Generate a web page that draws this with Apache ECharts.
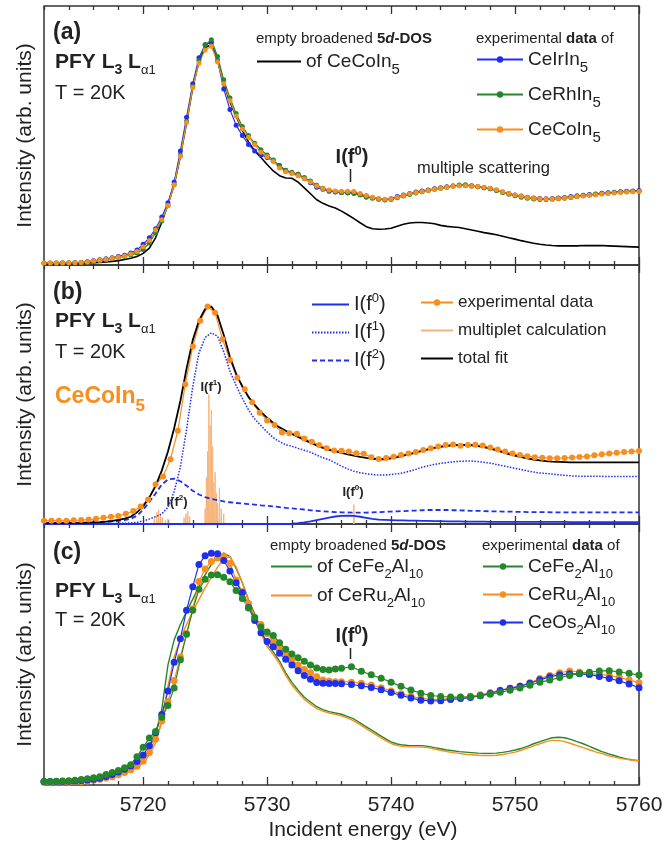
<!DOCTYPE html>
<html>
<head>
<meta charset="utf-8">
<title>PFY L3 spectra</title>
<script src="https://cdn.jsdelivr.net/npm/echarts@6.0.0/dist/echarts.min.js"></script>
<style>
  html, body { margin: 0; padding: 0; background: #fff; }
  #main { width: 672px; height: 844px; }
</style>
</head>
<body>
<div id="main"></div>
<script>
// energy sampling grids (eV)
function steps(from, to, step) {
  const out = [];
  for (let e = from; e <= to + 1e-9; e += step) out.push(+e.toFixed(2));
  return out;
}
const energyFine = steps(5712, 5760, 0.5);                                   // 97 pts
const energyB = steps(5712, 5760, 0.6);                                      // 81 pts
const energyC = steps(5712, 5736, 0.5).concat(steps(5736.8, 5760, 0.8));     // 79 pts

const majorTicks = [5720, 5730, 5740, 5750, 5760];
const minorTicks = [5712, 5714, 5716, 5718, 5722, 5724, 5726, 5728, 5732, 5734, 5736, 5738,
  5742, 5744, 5746, 5748, 5752, 5754, 5756, 5758];

// ---- panel (a) : CeM In5, values in % of panel height ----
const dosCeCoIn5 = [
  0.5,0.5,0.5,0.5,0.6,0.6,0.7,0.8,0.9,1.0,
  1.2,1.4,1.7,2.1,2.6,3.3,4.5,6.5,10.5,16.5,
  23.5,31,42,55,68.5,78.5,84,85,79,70,
  63,57.5,52,47.5,44,41.5,38.8,36.3,34.5,33.6,
  33.5,32,29.8,27.5,25.2,23.8,22.8,22,20.8,19.4,
  17.9,16.3,14.8,14,13.8,13.9,14.2,15,15.7,16.2,
  16.4,16.4,16.2,15.9,15.3,14.9,14.7,14.5,14,13.5,
  13,12.5,12.1,11.7,11.1,10.5,10,9.4,8.9,8.4,
  8,7.7,7.5,7.4,7.4,7.4,7.4,7.5,7.5,7.5,
  7.5,7.4,7.3,7.2,7.1,7.0,6.9
];
const expCeIrIn5 = [
  0.7,0.7,0.7,0.8,0.8,0.9,1.0,1.3,1.6,2.0,
  2.4,2.8,3.3,3.8,4.6,5.8,8,10.5,14,18.5,
  24,32,44,57,70,80,85,86,79,68,
  60,54,50,46.5,44,42.5,41.5,40.2,38.4,36.5,
  35.5,35,33.5,31.8,30,29.2,28.5,28.2,28,28,
  27.8,27.2,26.5,26,25.5,25.2,25.6,26.4,27,27.6,
  28.2,28.6,29,29.4,29.8,30.2,30.5,30.8,30.7,30.5,
  30.2,29.8,29.4,28.9,28.2,27.6,27,26.6,26.2,25.9,
  25.7,25.6,25.7,25.9,26.1,26.4,26.7,26.9,27.2,27.4,
  27.7,27.9,28.1,28.3,28.5,28.6,28.8
];
const expCeRhIn5 = [
  0.8,0.8,0.8,0.8,0.9,0.9,1.0,1.1,1.4,1.7,
  2.1,2.5,2.9,3.3,3.9,4.6,6,8.5,12.5,17,
  23,31,42.5,55.5,69,79,85,87,80.5,71.5,
  64.5,58.5,53.5,50,47,44.5,42.5,40.5,38.2,36.6,
  35.8,35,33.8,32.4,30.8,29.6,28.8,28.3,28,27.8,
  27.6,27,26.2,25.8,25.4,25.1,25.3,26,26.6,27.2,
  27.8,28.3,28.8,29.2,29.6,30,30.5,30.9,31,30.6,
  30.2,29.8,29.4,28.8,28,27.3,26.7,26.2,25.8,25.5,
  25.3,25.3,25.4,25.6,25.8,26.1,26.4,26.7,27,27.3,
  27.5,27.8,28,28.2,28.3,28.4,28.5
];
const expCeCoIn5 = [
  0.8,0.8,0.8,0.8,0.9,0.9,1.0,1.2,1.5,1.8,
  2.2,2.6,3.0,3.5,4.2,5.2,7.0,9.5,13.5,17.5,
  23,31,42,55,68.5,78,83,84.5,78.5,70,
  63.5,57.5,52.5,49.3,46.5,43.5,41.8,40,37.5,36,
  35.3,34.5,33.3,32,30.5,29.5,29,28.6,28.5,28.5,
  28.4,27.6,26.8,26.2,25.7,25.4,25.5,26.2,26.8,27.5,
  28,28.4,28.8,29.2,29.6,30,30.4,30.6,30.6,30.4,
  30.3,30,29.6,29.1,28.3,27.6,27,26.5,26.1,25.8,
  25.6,25.5,25.6,25.7,25.9,26.2,26.4,26.6,26.9,27.1,
  27.4,27.6,27.8,28,28.2,28.3,28.4
];

// ---- panel (b) : CeCoIn5 fit ----
const expFitB = [
  1.3,1.3,1.3,1.3,1.4,1.5,1.7,2.0,2.4,2.8,
  3.1,4.0,5.0,6.8,9.5,15.3,18.3,25,36,54,
  68.5,78.5,84,81.6,71.3,63.3,56.5,52,47,43,
  40,38.2,35.3,35,34.8,33,31.8,30.5,29.2,28.4,
  28.3,28,27.3,27.1,25.8,25.1,25.5,26,26.6,27.2,
  27.8,28.6,29.2,29.9,30.5,30.7,30.2,30.5,30.6,30.3,
  29.5,28.8,28,27.2,26.6,26.2,25.8,25.6,25.4,25.4,
  25.5,25.7,25.9,26.1,26.5,26.9,27.2,27.5,27.8,28.0,
  28.2
];
const totalFit = [
  0.3,0.3,0.3,0.3,0.3,0.4,0.4,0.5,0.6,0.7,
  0.9,1.2,1.6,2.1,2.8,4.5,6.8,10.3,14.6,20.6,
  28,37,47.5,60,71,78.5,83,84,80.5,73,
  64.5,58,53,49,46,43.3,41,39,37.3,36,
  34.8,33.6,32.5,31.4,30.3,29.4,28.6,28,27.5,26.9,
  26.4,25.9,25.5,25.2,25.0,25.0,25.3,25.8,26.4,27.0,
  27.6,28.2,28.8,29.4,29.8,30.2,30.4,30.5,30.5,30.4,
  30.1,29.7,29.1,28.4,27.7,27,26.4,25.8,25.3,24.9,
  24.6,24.3,24.1,24,23.9,23.8,23.8,23.8,23.8,23.8,
  23.8,23.8,23.8,23.8,23.8,23.8,23.8
];
const fitF0 = [
  0,0,0,0,0,0,0,0,0,0,
  0,0,0,0,0,0,0,0,0,0,
  0,0,0,0,0,0,0,0,0,0,
  0,0,0,0,0,0,0,0,0,0,
  0.1,0.3,0.6,1.0,1.5,2.0,2.5,2.9,3.1,3.2,
  3.1,2.8,2.4,2.0,1.7,1.6,1.5,1.4,1.4,1.3,
  1.3,1.2,1.2,1.1,1.1,1.0,1.0,1.0,0.9,0.9,
  0.9,0.9,0.8,0.8,0.8,0.8,0.8,0.8,0.8,0.8,
  0.8,0.8,0.8,0.8,0.8,0.7,0.7,0.7,0.7,0.7,
  0.7,0.7,0.7,0.7,0.7,0.7,0.7
];
const fitF1 = [
  0.2,0.2,0.2,0.2,0.2,0.2,0.2,0.2,0.2,0.2,
  0.2,0.2,0.3,0.3,0.4,0.6,1.2,1.9,2.8,3.9,
  6.5,12.5,22,36.5,53,66,72,73.8,72.5,66.5,
  59,53.5,48.5,44,40.5,38,35.5,33.3,31.8,30.6,
  30,29.2,28.5,27.7,26.6,25.6,24.8,23.6,22.3,21.3,
  20.4,19.8,19.4,19.1,18.9,18.9,19.1,19.4,19.8,20.4,
  21.1,21.9,22.5,23,23.4,23.7,24,24.2,24.3,24.3,
  24.1,23.8,23.5,23,22.5,22,21.5,21,20.5,20.1,
  19.7,19.5,19.3,19,18.8,18.6,18.5,18.4,18.4,18.4,
  18.4,18.3,18.3,18.3,18.3,18.3,18.3
];
const fitF2 = [
  0.3,0.3,0.3,0.3,0.4,0.4,0.5,0.5,0.6,0.7,
  0.8,1.0,1.2,1.5,2.0,3.2,5.5,8.5,11.8,15.2,
  17.2,17.5,16.5,14.8,12.8,11.4,10.4,9.7,9.2,8.7,
  8.4,8.1,7.9,7.7,7.5,7.2,7.0,6.8,6.5,6.2,
  6.0,5.8,5.6,5.3,5.1,4.9,4.8,4.6,4.5,4.5,
  4.4,4.4,4.4,4.5,4.6,4.7,4.8,4.9,5.0,5.1,
  5.2,5.3,5.4,5.4,5.4,5.4,5.3,5.3,5.2,5.1,
  5.1,5.0,4.9,4.9,4.8,4.8,4.7,4.7,4.6,4.6,
  4.6,4.6,4.5,4.5,4.5,4.5,4.5,4.5,4.5,4.5,
  4.5,4.5,4.5,4.5,4.5,4.5,4.5
];
// multiplet calculation (stick spectrum)
const stickEnergy = [5720.9, 5721.1, 5721.25, 5721.4, 5721.55, 5721.8, 5722.0,
  5723.3, 5723.45, 5723.6, 5723.75,
  5725.0, 5725.1, 5725.2, 5725.3, 5725.4, 5725.5, 5725.6, 5725.7, 5725.8, 5725.9, 5726.0, 5726.15, 5726.3, 5726.5,
  5737.0];
const stickHeight = [2.0, 4.5, 5.5, 3.5, 2.5, 1.5, 2.0,
  2.5, 4.0, 5.0, 3.0,
  6, 18, 28, 50, 38, 44, 30, 16, 20, 12, 8, 14, 6, 4,
  7.5];

// ---- panel (c) : CeT2Al10 ----
const dosCeFe2Al10 = [
  1.5,1.5,1.6,1.7,1.8,1.9,2.1,2.3,2.6,3.0,
  3.4,3.9,4.6,5.4,6.4,8.2,10.8,14.2,19.5,29,
  46,55.6,61.5,66.5,71.2,76,80.5,84.5,87.5,88.8,
  87.5,83,77.5,71,65.5,59,54,51,47.5,43,
  39.3,36.3,33.6,31.8,30,28.9,28.1,27.6,27.1,26.2,
  25.3,23.8,22.3,20.8,19.3,17.9,16.5,15.7,15.3,15.1,
  15.1,15.1,14.8,14.3,13.9,13.4,13.1,12.8,12.6,12.4,
  12.2,12.1,12.1,12.2,12.5,12.9,13.4,14,14.8,15.8,
  16.6,17.4,18.1,18.3,18.1,17.5,16.6,15.8,14.8,13.8,
  12.8,12.0,11.3,10.6,10.0,9.6,9.3
];
const dosCeRu2Al10 = [
  1.2,1.2,1.3,1.3,1.4,1.5,1.6,1.8,2.0,2.3,
  2.7,3.2,3.8,4.5,5.4,6.6,8.5,11.5,16,24,
  38,49,56,61.5,66.5,71,75.5,79.5,83.5,86.5,
  87.5,83.5,77.5,70.5,64.5,58,53,50,46.5,42,
  38.3,35.4,32.8,31,29.3,28.3,27.6,27.1,26.5,25.6,
  24.6,23.1,21.6,20.1,18.6,17.2,15.9,15.1,14.7,14.6,
  14.6,14.5,14.3,13.8,13.3,12.8,12.4,12.1,11.8,11.6,
  11.4,11.3,11.3,11.4,11.7,12.1,12.6,13.3,14.1,15,
  15.8,16.6,17.1,17.1,16.6,15.9,15.1,14.3,13.5,12.7,
  12,11.3,10.7,10.2,9.8,9.5,9.3
];
const expCeFe2Al10 = [
  1.3,1.3,1.4,1.5,1.6,1.8,2.1,2.4,2.8,3.2,
  4.0,4.8,5.6,6.6,7.8,10.8,14.5,18,20.5,26,
  30.5,37.2,48,57.8,67,75,78.8,80.5,80.6,79.6,
  77.9,74.5,71.5,67.8,64.2,60.5,58.6,57.3,54.5,52,
  50.2,48.8,47.4,46,44.8,44.3,44.1,44.4,44.7,
  45.3,43.6,42.2,40.9,39.4,37.8,36.4,35.2,34.3,33.9,
  33.7,33.7,33.8,34.2,34.8,35.5,36.3,37.2,38.2,39.4,
  40.2,41.2,42.0,42.7,43.2,43.7,43.8,43.3,42.8,42.1
];
const expCeRu2Al10 = [
  1.1,1.1,1.1,1.1,1.1,1.2,1.3,1.5,1.8,2.2,
  2.7,3.2,3.9,4.8,5.8,7.2,9.2,12.5,17.5,24.5,
  32,40,49,58,67.5,78,82.8,85.6,87,87.7,
  84.9,78.5,74,69.5,64,61.5,58,55,52.4,50,
  48,46,44.3,43,41.5,40.2,39.8,39.6,39.6,
  39.4,39,38.3,37.3,36,35,34,33.2,32.8,32.8,
  33.2,33.6,34,34.6,35.4,36.3,37.2,37.9,39.2,40.8,
  42,43,43.7,43.3,42.8,42.4,42,41.2,40.2,39.2
];
const expCeOs2Al10 = [
  1.3,1.3,1.3,1.3,1.4,1.5,1.7,1.9,2.2,2.6,
  3.3,4.0,5.0,6.0,7.3,9.0,11.5,15.0,20.0,27.0,
  36,47,56,67,76,84.5,87.8,88.8,88.6,86,
  82,77.5,73.8,68,63,58.3,55,53,50.5,48.2,
  46,43.8,42,40.5,39.3,39,38.9,38.9,38.8,
  38.5,38,37.4,36.5,35.4,34.4,33.3,32.5,32.2,32.3,
  32.8,33.1,33.5,34.2,35.1,36.2,37,37.8,39,40.3,
  41.5,42.2,42.6,42.6,42.3,41.6,40.8,39.9,38.7,37.3
];

const FONT = "'Liberation Sans', Arial, Helvetica, sans-serif";
const INK = '#222';
const BLUE = '#1f2ff0';
const GREEN = '#24882a';
const ORANGE = '#f78e1e';
const LIGHT_ORANGE = '#f6b47a';

const chart = echarts.init(document.getElementById('main'));

function pairs(xs, ys) {
  return xs.map((x, i) => [x, ys[i]]);
}

function stickData(es, hs) {
  const out = [];
  es.forEach((e, i) => {
    out.push([e - 0.025, 0], [e, hs[i]], [e + 0.025, 0], [e + 0.03, null]);
  });
  return out;
}

const grids = [
  { left: 44, right: 33, top: 6, height: 259 },
  { left: 44, right: 33, top: 265, height: 259 },
  { left: 44, right: 33, top: 524, height: 261 }
].map(g => Object.assign(g, { show: true, borderColor: '#333', borderWidth: 1.5, backgroundColor: 'transparent' }));

function xAxesFor(g, withLabels) {
  const base = { type: 'value', gridIndex: g, min: 5712, max: 5760, axisLine: { show: false }, splitLine: { show: false } };
  const tickStyle = { color: '#333', width: 1.3 };
  const label = withLabels
    ? { show: true, customValues: majorTicks, fontSize: 21, fontFamily: FONT, color: INK, margin: 10, formatter: v => String(v) }
    : { show: false };
  return [
    Object.assign({}, base, { position: 'bottom', axisTick: { inside: true, length: 8, customValues: majorTicks, lineStyle: tickStyle }, axisLabel: label }),
    Object.assign({}, base, { position: 'bottom', axisTick: { inside: true, length: 4, customValues: minorTicks, lineStyle: tickStyle }, axisLabel: { show: false } }),
    Object.assign({}, base, { position: 'top', axisTick: { inside: true, length: 8, customValues: majorTicks, lineStyle: tickStyle }, axisLabel: { show: false } }),
    Object.assign({}, base, { position: 'top', axisTick: { inside: true, length: 4, customValues: minorTicks, lineStyle: tickStyle }, axisLabel: { show: false } })
  ];
}

function yAxisFor(g) {
  return {
    type: 'value', gridIndex: g, min: 0, max: 100,
    axisLine: { show: false }, axisTick: { show: false }, axisLabel: { show: false }, splitLine: { show: false },
    name: 'Intensity (arb. units)', nameLocation: 'middle', nameGap: 8,
    nameTextStyle: { fontSize: 21, fontFamily: FONT, color: INK }
  };
}

function expSeries(name, g, xs, ys, color, size, width) {
  return {
    name, type: 'line', xAxisIndex: g * 4, yAxisIndex: g, data: pairs(xs, ys),
    symbol: 'circle', symbolSize: size, showSymbol: true, color,
    lineStyle: { width: width, color }, itemStyle: { color }
  };
}

function curve(name, g, xs, ys, color, width, dash) {
  return {
    name, type: 'line', xAxisIndex: g * 4, yAxisIndex: g, data: pairs(xs, ys),
    symbol: 'none', showSymbol: false, color,
    lineStyle: { width, color, type: dash || 'solid' }
  };
}

const series = [
  // (a)
  curve('of CeCoIn5', 0, energyFine, dosCeCoIn5, '#000', 1.6),
  expSeries('CeIrIn5', 0, energyFine, expCeIrIn5, BLUE, 5, 1.2),
  expSeries('CeRhIn5', 0, energyFine, expCeRhIn5, GREEN, 5, 1.2),
  expSeries('CeCoIn5', 0, energyFine, expCeCoIn5, ORANGE, 5, 1.2),
  // (b)
  {
    name: 'multiplet calculation', type: 'line', xAxisIndex: 4, yAxisIndex: 1,
    data: stickData(stickEnergy, stickHeight), symbol: 'none', showSymbol: false,
    color: LIGHT_ORANGE, lineStyle: { width: 1, color: LIGHT_ORANGE }
  },
  curve('I(f2)', 1, energyFine, fitF2, BLUE, 1.8, [5, 3]),
  curve('I(f1)', 1, energyFine, fitF1, BLUE, 1.5, [1.5, 1.5]),
  curve('I(f0)', 1, energyFine, fitF0, BLUE, 1.8),
  expSeries('experimental data', 1, energyB, expFitB, ORANGE, 6, 1.2),
  curve('total fit', 1, energyFine, totalFit, '#000', 1.8),
  // (c)
  curve('of CeFe2Al10', 2, energyFine, dosCeFe2Al10, GREEN, 1.4),
  curve('of CeRu2Al10', 2, energyFine, dosCeRu2Al10, ORANGE, 1.4),
  expSeries('CeRu2Al10', 2, energyC, expCeRu2Al10, ORANGE, 7, 1.2),
  expSeries('CeOs2Al10', 2, energyC, expCeOs2Al10, BLUE, 7, 1.2),
  expSeries('CeFe2Al10', 2, energyC, expCeFe2Al10, GREEN, 7, 1.2)
];

const legendText = {
  'of CeCoIn5': 'of CeCoIn{s|5}',
  'CeIrIn5': 'CeIrIn{s|5}',
  'CeRhIn5': 'CeRhIn{s|5}',
  'CeCoIn5': 'CeCoIn{s|5}',
  'I(f0)': 'I(f{p|0})',
  'I(f1)': 'I(f{p|1})',
  'I(f2)': 'I(f{p|2})',
  'experimental data': 'experimental data',
  'multiplet calculation': 'multiplet calculation',
  'total fit': 'total fit',
  'of CeFe2Al10': 'of CeFe{t|2}Al{t|10}',
  'of CeRu2Al10': 'of CeRu{t|2}Al{t|10}',
  'CeFe2Al10': 'CeFe{t|2}Al{t|10}',
  'CeRu2Al10': 'CeRu{t|2}Al{t|10}',
  'CeOs2Al10': 'CeOs{t|2}Al{t|10}'
};
// curves without markers: hide the legend dot
const lineOnly = ['of CeCoIn5', 'I(f0)', 'I(f1)', 'I(f2)', 'multiplet calculation', 'total fit', 'of CeFe2Al10', 'of CeRu2Al10'];

const legendRich = {
  s: { fontSize: 15, fontFamily: FONT, color: INK, padding: [16, 0, 0, 0] },
  t: { fontSize: 13, fontFamily: FONT, color: INK, padding: [16, 0, 0, 0] },
  p: { fontSize: 13, fontFamily: FONT, color: INK, padding: [0, 0, 12, 0] }
};

function legendCol(names, left, top, gap, itemWidth, fontSize) {
  return {
    data: names.map(n => lineOnly.indexOf(n) >= 0 ? { name: n, itemStyle: { opacity: 0 } } : n),
    orient: 'vertical', left, top, itemGap: gap, itemWidth, itemHeight: 8,
    padding: 0, selectedMode: false,
    formatter: n => legendText[n],
    textStyle: { fontFamily: FONT, fontSize: fontSize || 19, color: INK, rich: legendRich }
  };
}

const legends = [
  legendCol(['of CeCoIn5'], 256, 52, 4, 44),
  legendCol(['CeIrIn5', 'CeRhIn5', 'CeCoIn5'], 476, 50, 10, 46),
  legendCol(['I(f0)', 'I(f1)', 'I(f2)'], 311, 292, 5.5, 37, 20),
  legendCol(['experimental data', 'multiplet calculation', 'total fit'], 420, 294, 11, 32, 17),
  legendCol(['of CeFe2Al10', 'of CeRu2Al10'], 270, 557, 5, 41),
  legendCol(['CeFe2Al10', 'CeRu2Al10', 'CeOs2Al10'], 482, 557, 4, 40)
];

// annotations
function txt(x, y, text, size, weight) {
  return {
    type: 'text', x, y, silent: true,
    style: { text, fill: INK, fontSize: size, fontWeight: weight || 'normal', fontFamily: FONT, verticalAlign: 'middle', align: 'left' }
  };
}
const subRich = {
  b: { fontSize: 21, fontWeight: 'bold', fontFamily: FONT, fill: INK },
  bs: { fontSize: 14, fontWeight: 'bold', fontFamily: FONT, fill: INK, padding: [16, 0, 0, 0] },
  as: { fontSize: 13, fontWeight: 'normal', fontFamily: FONT, fill: INK, padding: [16, 0, 0, 0] }
};
function pfy(y) {
  const t = txt(55, y, '{b|PFY L}{bs|3}{b| L}{as|\u03b11}', 21, 'bold');
  t.style.rich = subRich;
  return t;
}
function header(x, y, kind) {
  const t = txt(x, y, kind === 'dos'
    ? '{n|empty broadened }{b|5}{bi|d}{b|-DOS}'
    : '{n|experimental }{b|data}{n| of}', 15);
  t.style.rich = {
    n: { fontSize: 15, fontFamily: FONT, fill: INK },
    b: { fontSize: 15, fontFamily: FONT, fill: INK, fontWeight: 'bold' },
    bi: { fontSize: 15, fontFamily: FONT, fill: INK, fontWeight: 'bold', fontStyle: 'italic' }
  };
  return t;
}
function fLabel(cx, y, digit, size) {
  const t = txt(cx, y, '{m|I(f}{p|' + digit + '}{m|)}', size, 'bold');
  t.style.align = 'center';
  t.style.rich = {
    m: { fontSize: size, fontWeight: 'bold', fontFamily: FONT, fill: INK },
    p: { fontSize: Math.round(size * 0.65), fontWeight: 'bold', fontFamily: FONT, fill: INK, padding: [0, 0, Math.round(size * 0.6), 0] }
  };
  return t;
}
function tickMark(x, y1, y2) {
  return { type: 'line', silent: true, shape: { x1: x, y1, x2: x, y2 }, style: { stroke: INK, lineWidth: 1.5 } };
}

const cecoinLabel = txt(55, 397, '{o|CeCoIn}{os|5}', 22, 'bold');
cecoinLabel.style.rich = {
  o: { fontSize: 23, fontWeight: 'bold', fontFamily: FONT, fill: ORANGE },
  os: { fontSize: 17, fontWeight: 'bold', fontFamily: FONT, fill: ORANGE, padding: [18, 0, 0, 0] }
};

const xTitle = txt(363, 830, 'Incident energy (eV)', 21);
xTitle.style.align = 'center';

const graphics = [
  txt(53, 33, '(a)', 23, 'bold'),
  pfy(62),
  txt(55, 93, 'T = 20K', 20),
  header(256, 39, 'dos'),
  header(476, 39, 'exp'),
  fLabel(352, 157, '0', 20),
  tickMark(350.5, 169, 182),
  txt(417, 168, 'multiple scattering', 16.5),

  txt(53, 293, '(b)', 23, 'bold'),
  pfy(321),
  txt(55, 352, 'T = 20K', 20),
  cecoinLabel,
  fLabel(211, 387, '1', 13),
  fLabel(177, 502, '2', 13),
  fLabel(353, 492, '0', 13),

  txt(53, 553, '(c)', 23, 'bold'),
  pfy(591),
  txt(55, 620, 'T = 20K', 20),
  header(270, 546, 'dos'),
  header(482, 546, 'exp'),
  fLabel(352, 636, '0', 20),
  tickMark(350.5, 648, 659),

  xTitle
];

chart.setOption({
  animation: false,
  backgroundColor: '#fff',
  grid: grids,
  xAxis: [].concat(xAxesFor(0, false), xAxesFor(1, false), xAxesFor(2, true)),
  yAxis: [yAxisFor(0), yAxisFor(1), yAxisFor(2)],
  legend: legends,
  series: series,
  graphic: graphics
});
</script>
</body>
</html>
